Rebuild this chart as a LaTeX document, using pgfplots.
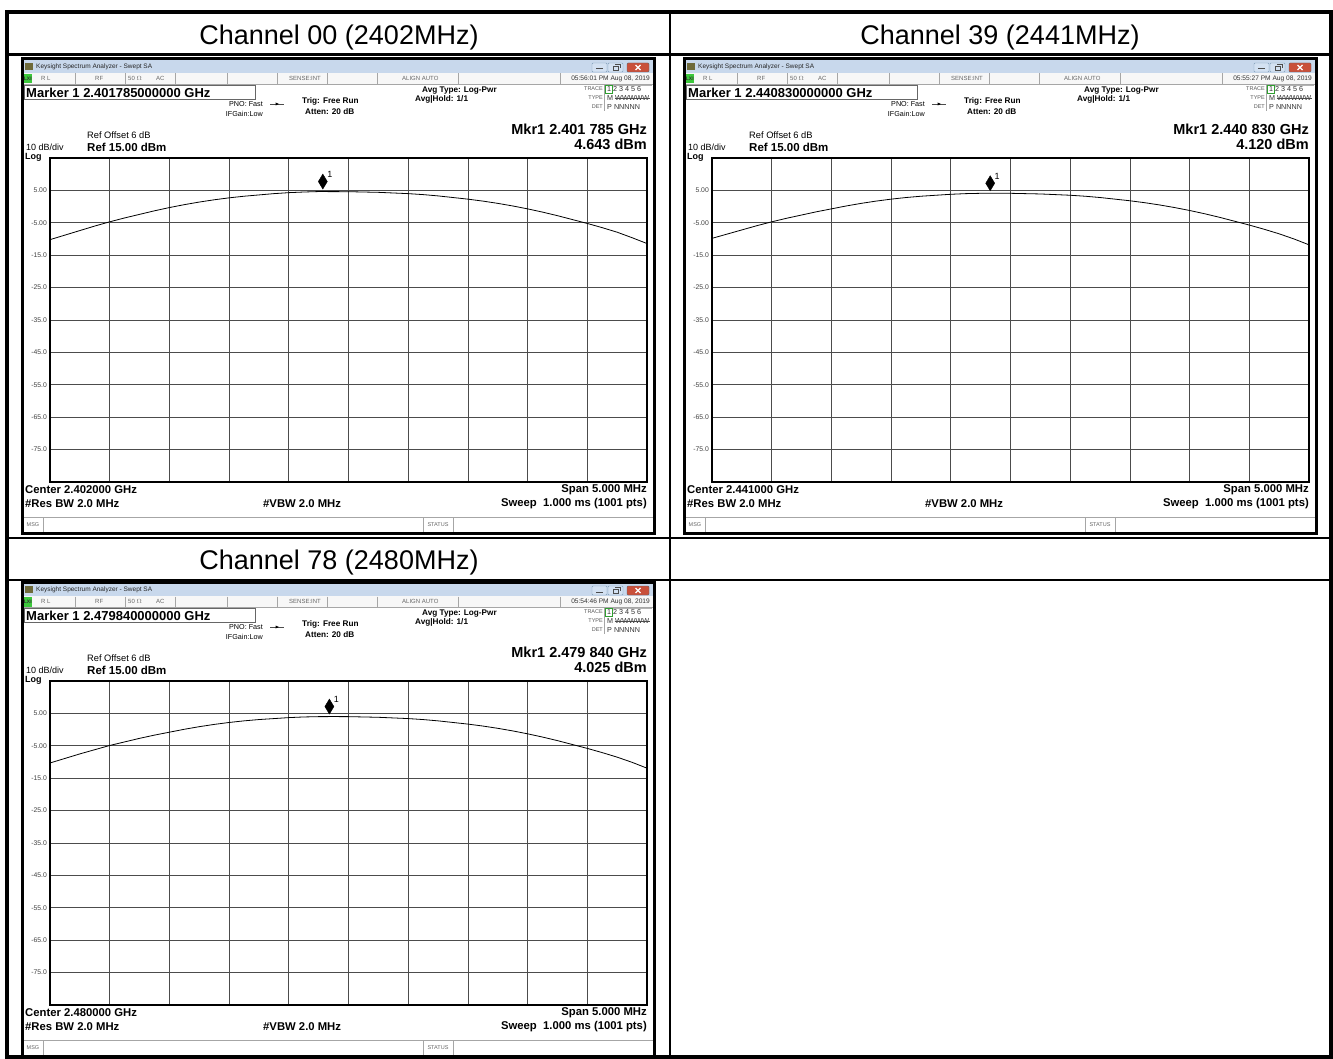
\documentclass[border=0pt]{standalone}
\usepackage{pgfplots}
\pgfplotsset{compat=1.18}
\usepackage{pgfplotstable}
\usepackage{fontspec}
\setmainfont{Liberation Sans}
\newcommand\fs[1]{\fontsize{#1}{#1}\selectfont}
\definecolor{titlebar}{HTML}{C8D8EC}
\definecolor{btn}{HTML}{D3E1F2}
\definecolor{btnb}{HTML}{7F9DB9}
\definecolor{closeb}{HTML}{C9503B}
\definecolor{lxi}{HTML}{3CC83C}
\definecolor{iconc}{HTML}{6E6A3A}

\pgfplotstableread{
f db
2399.500 -10.2
2399.625 -8.8
2399.750 -7.4
2399.875 -6.0
2400.000 -4.7
2400.125 -3.5
2400.250 -2.4
2400.375 -1.3
2400.500 -0.3
2400.625 0.6
2400.750 1.4
2400.875 2.1
2401.000 2.7
2401.125 3.2
2401.250 3.6
2401.375 4.0
2401.500 4.3
2401.625 4.5
2401.750 4.64
2401.875 4.62
2402.000 4.6
2402.125 4.5
2402.250 4.4
2402.375 4.2
2402.500 4.0
2402.625 3.7
2402.750 3.3
2402.875 2.8
2403.000 2.3
2403.125 1.7
2403.250 1.0
2403.375 0.2
2403.500 -0.7
2403.625 -1.7
2403.750 -2.8
2403.875 -4.0
2404.000 -5.2
2404.125 -6.5
2404.250 -7.9
2404.375 -9.6
2404.500 -11.4
}\chA

\pgfplotstableread{
f db
2438.500 -9.8
2438.625 -8.5
2438.750 -7.2
2438.875 -5.9
2439.000 -4.7
2439.125 -3.6
2439.250 -2.6
2439.375 -1.6
2439.500 -0.7
2439.625 0.2
2439.750 1.0
2439.875 1.7
2440.000 2.3
2440.125 2.8
2440.250 3.2
2440.375 3.5
2440.500 3.8
2440.625 4.0
2440.750 4.1
2440.875 4.12
2441.000 4.1
2441.125 4.0
2441.250 3.9
2441.375 3.7
2441.500 3.5
2441.625 3.2
2441.750 2.8
2441.875 2.3
2442.000 1.8
2442.125 1.2
2442.250 0.5
2442.375 -0.3
2442.500 -1.2
2442.625 -2.2
2442.750 -3.3
2442.875 -4.5
2443.000 -5.7
2443.125 -7.0
2443.250 -8.4
2443.375 -10.0
2443.500 -11.8
}\chB

\pgfplotstableread{
f db
2477.500 -10.3
2477.625 -8.9
2477.750 -7.5
2477.875 -6.2
2478.000 -4.9
2478.125 -3.8
2478.250 -2.7
2478.375 -1.7
2478.500 -0.8
2478.625 0.1
2478.750 0.9
2478.875 1.6
2479.000 2.2
2479.125 2.7
2479.250 3.1
2479.375 3.4
2479.500 3.7
2479.625 3.9
2479.750 4.0
2479.875 4.02
2480.000 4.0
2480.125 3.9
2480.250 3.8
2480.375 3.6
2480.500 3.4
2480.625 3.1
2480.750 2.7
2480.875 2.2
2481.000 1.7
2481.125 1.1
2481.250 0.4
2481.375 -0.4
2481.500 -1.3
2481.625 -2.3
2481.750 -3.4
2481.875 -4.6
2482.000 -5.8
2482.125 -7.1
2482.250 -8.5
2482.375 -10.1
2482.500 -11.9
}\chC

\pgfplotsset{sa/.style={
  scale only axis, width=597pt, height=324pt, anchor=south west,
  ymin=-85, ymax=15, ytick={-75,-65,...,5},
  yticklabels={-75.0,-65.0,-55.0,-45.0,-35.0,-25.0,-15.0,-5.00,5.00},
  xticklabels={}, grid=major, major grid style={black!70,line width=0.7pt},
  axis line style={black,line width=1.6pt}, tick style={draw=none},
  yticklabel style={font=\fs{6.8}, text=black!75, inner sep=0pt, xshift=-3pt},
}}

% #1 dx, #2 dy, #3 marker freq text, #4 time, #5 mkr freq, #6 mkr value, #7 center
\newcommand\screen[7]{%
\begin{scope}[shift={(#1pt,-#2pt)},x=1pt,y=-1pt]
 \fill[white] (22,59) rectangle (654,533);
 \fill[titlebar] (23,60) rectangle (653,73);
 \fill[iconc] (25,63) rectangle (33,70);
 \node[anchor=west,inner sep=0pt,font=\fs{6.5},text=black!85] at (36,66.5) {Keysight Spectrum Analyzer - Swept SA};
 \draw[btnb,fill=btn,rounded corners=1pt] (592,63) rectangle (607,72);
 \draw[black!70,line width=1pt] (596,69) -- (603,69);
 \draw[btnb,fill=btn,rounded corners=1pt] (608,63) rectangle (623,72);
 \draw[black!70] (613,66) rectangle (618,70);
 \draw[black!70] (615,64.5) -- (620,64.5) -- (620,68);
 \draw[black!60,fill=closeb,rounded corners=1pt] (627,63) rectangle (649,72);
 \draw[white,line width=1.2pt] (635.5,65) -- (640.5,70) (635.5,70) -- (640.5,65);
 % status row
 \fill[black!3] (23,73) rectangle (653,84);
 \draw[black!35] (23,84) -- (653,84);
 \foreach \s in {75,125,175,227,277,327,377,458,560} \draw[black!35] (\s,73.5) -- (\s,84);
 \fill[lxi] (23.5,74) rectangle (32,83.5);
 \node[anchor=center,inner sep=0pt,font=\fs{5}\bfseries,text=black!80] at (27.8,78.8) {LXI};
 \begin{scope}[every node/.style={anchor=west,inner sep=0pt,font=\fs{6},text=black!60}]
 \node at (41,78.8) {R L};
 \node at (95,78.8) {RF};
 \node at (128,78.8) {50 $\Omega$};
 \node at (156,78.8) {AC};
 \node at (289,78.8) {SENSE:INT};
 \node at (402,78.8) {ALIGN AUTO};
 \end{scope}
 \node[anchor=east,inner sep=0pt,font=\fs{6.6},text=black!80] at (650,78.8) {#4};
 % marker box
 \draw[black!60] (24,85.5) rectangle (255,99.5);
 \node[anchor=west,inner sep=0pt,font=\fs{13}\bfseries] at (26,92.5) {Marker 1 #3 GHz};
 \node[anchor=east,inner sep=0pt,font=\fs{7.2}] at (263,104) {PNO: Fast};
 \node[anchor=east,inner sep=0pt,font=\fs{7.2}] at (263,113.5) {IFGain:Low};
 \draw[black!70] (270,104) -- (284,104);
 \fill[black] (275.5,102.5) -- (279,104) -- (275.5,105.5) -- cycle;
 \node[anchor=west,inner sep=0pt,font=\fs{8.2}\bfseries] at (302,101) {Trig: Free Run};
 \node[anchor=west,inner sep=0pt,font=\fs{8.2}\bfseries] at (305,111.5) {Atten: 20 dB};
 \node[anchor=west,inner sep=0pt,font=\fs{8.2}\bfseries] at (422,90.5) {Avg Type: Log-Pwr};
 \node[anchor=west,inner sep=0pt,font=\fs{8.2}\bfseries] at (415,99.5) {Avg|Hold: 1/1};
 % trace table
 \begin{scope}[every node/.style={anchor=east,inner sep=0pt,font=\fs{5.5},text=black!65}]
 \node at (603,89) {TRACE};
 \node at (603,98) {TYPE};
 \node at (603,107) {DET};
 \end{scope}
 \draw[black!35] (604.5,85) -- (604.5,111);
 \draw[black!30] (604.5,85) -- (652,85);
 \draw[lxi!80!black] (605.5,85.5) rectangle (612,93.5);
 \begin{scope}[every node/.style={anchor=west,inner sep=0pt,font=\fs{7.2},text=black!80}]
 \node at (607,89.5) {1 2 3 4 5 6};
 \node at (607,98.5) {M};
 \node at (615,98.5) {WWWWW};
 \node at (607,107.5) {P NNNNN};
 \end{scope}
 \draw[black!70,line width=0.5pt] (614.5,98.3) -- (650,98.3);
 % marker readout
 \node[anchor=east,inner sep=0pt,font=\fs{14.5}\bfseries] at (647,129) {Mkr1 #5 GHz};
 \node[anchor=east,inner sep=0pt,font=\fs{14.5}\bfseries] at (647,144.5) {#6 dBm};
 \node[anchor=west,inner sep=0pt,font=\fs{9.3}] at (87,135.5) {Ref Offset 6 dB};
 \node[anchor=west,inner sep=0pt,font=\fs{9}] at (26,147) {10 dB/div};
 \node[anchor=west,inner sep=0pt,font=\fs{11.5}\bfseries] at (87,147.5) {Ref 15.00 dBm};
 \node[anchor=west,inner sep=0pt,font=\fs{9}\bfseries] at (25,157.3) {Log};
 % bottom annotations
 \node[anchor=west,inner sep=0pt,font=\fs{11.3}\bfseries] at (25,490) {Center #7 GHz};
 \node[anchor=west,inner sep=0pt,font=\fs{11.3}\bfseries] at (25,504) {\#Res BW 2.0 MHz};
 \node[anchor=west,inner sep=0pt,font=\fs{11.3}\bfseries] at (263,504) {\#VBW 2.0 MHz};
 \node[anchor=east,inner sep=0pt,font=\fs{11.3}\bfseries] at (647,490) {Span 5.000 MHz};
 \node[anchor=east,inner sep=0pt,font=\fs{11.3}\bfseries] at (647,504) {Sweep\ \ 1.000 ms (1001 pts)};
 % msg bar
 \draw[black!35] (23,517.5) -- (653,517.5);
 \foreach \s in {43,423,453} \draw[black!35] (\s,517.5) -- (\s,532);
 \node[inner sep=0pt,font=\fs{5.5},text=black!60] at (33,525) {MSG};
 \node[inner sep=0pt,font=\fs{5.5},text=black!60] at (438,525) {STATUS};
 \draw[black,line width=3pt] (22,59) rectangle (654,533);
\end{scope}}

\begin{document}
\begin{tikzpicture}
\path[use as bounding box] (0pt,0pt) rectangle (1333pt,-1059pt);
\fill[white] (0pt,0pt) rectangle (1333pt,-1059pt);
\begin{scope}[x=1pt,y=-1pt]
 \draw[line width=4pt] (7,12) rectangle (1331,1057);
 \draw[line width=2.6pt] (7,54.5) -- (1331,54.5);
 \draw[line width=2.6pt] (670,12) -- (670,1057);
 \draw[line width=2.6pt] (7,538) -- (1331,538);
 \draw[line width=2.6pt] (7,580) -- (1331,580);
 \node[anchor=base,inner sep=0pt,font=\fs{27}] at (339,45) {Channel 00 (2402MHz)};
 \node[anchor=base,inner sep=0pt,font=\fs{27}] at (1000,45) {Channel 39 (2441MHz)};
 \node[anchor=base,inner sep=0pt,font=\fs{27}] at (339,569) {Channel 78 (2480MHz)};
\end{scope}
\screen{0}{0}{2.401785000000}{05:56:01 PM Aug 08, 2019}{2.401 785}{4.643}{2.402000}
\screen{662}{0}{2.440830000000}{05:55:27 PM Aug 08, 2019}{2.440 830}{4.120}{2.441000}
\screen{0}{523}{2.479840000000}{05:54:46 PM Aug 08, 2019}{2.479 840}{4.025}{2.480000}

\begin{axis}[sa, at={(50pt,-482pt)}, xmin=2399.5, xmax=2404.5,
  xtick={2400,2400.5,2401,2401.5,2402,2402.5,2403,2403.5,2404}]
 \addplot[black, line width=0.8pt] table[x=f,y=db] {\chA};
 \addplot[only marks, mark=diamond*, mark size=7.5pt, mark options={black, xscale=0.8, yshift=10pt}] coordinates {(2401.785,4.643)};
 \node[font=\fs{9},inner sep=0pt,xshift=7pt,yshift=17pt] at (axis cs:2401.785,4.643) {1};
\end{axis}
\begin{axis}[sa, at={(712pt,-482pt)}, xmin=2438.5, xmax=2443.5,
  xtick={2439,2439.5,2440,2440.5,2441,2441.5,2442,2442.5,2443}]
 \addplot[black, line width=0.8pt] table[x=f,y=db] {\chB};
 \addplot[only marks, mark=diamond*, mark size=7.5pt, mark options={black, xscale=0.8, yshift=10pt}] coordinates {(2440.830,4.120)};
 \node[font=\fs{9},inner sep=0pt,xshift=7pt,yshift=17pt] at (axis cs:2440.830,4.120) {1};
\end{axis}
\begin{axis}[sa, at={(50pt,-1005pt)}, xmin=2477.5, xmax=2482.5,
  xtick={2478,2478.5,2479,2479.5,2480,2480.5,2481,2481.5,2482}]
 \addplot[black, line width=0.8pt] table[x=f,y=db] {\chC};
 \addplot[only marks, mark=diamond*, mark size=7.5pt, mark options={black, xscale=0.8, yshift=10pt}] coordinates {(2479.840,4.025)};
 \node[font=\fs{9},inner sep=0pt,xshift=7pt,yshift=17pt] at (axis cs:2479.840,4.025) {1};
\end{axis}
\end{tikzpicture}
\end{document}
